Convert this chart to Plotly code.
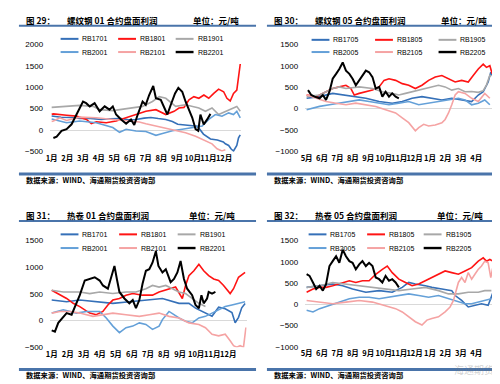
import plotly.graph_objects as go

W, H = 500, 384

NAMES_01 = ["RB1701", "RB1801", "RB1901", "RB2001", "RB2101", "RB2201"]
NAMES_05 = ["RB1705", "RB1805", "RB1905", "RB2005", "RB2105", "RB2205"]
COLORS = ["#3570B8", "#FF1414", "#A8A8A8", "#64A0D8", "#F5A3A3", "#000000"]
WIDTHS = [1.6, 1.6, 1.6, 1.6, 1.6, 2.0]

MONTH_TICKS_01 = [1, 2, 3, 4, 5, 6, 7, 8, 9, 10, 11, 12]
MONTH_LABELS_01 = ["1月", "2月", "3月", "4月", "5月", "6月", "7月", "8月", "9月", "10月", "11月", "12月"]
MONTH_TICKS_05 = [0, 1, 2, 3, 4, 5, 6, 7, 8, 9, 10, 11]
MONTH_LABELS_05 = ["5月", "6月", "7月", "8月", "9月", "10月", "11月", "12月", "1月", "2月", "3月", "4月"]

# ---------------- 图29 螺纹钢01 ----------------
P29_RB1701_X = [1.0, 1.19, 1.6, 2.27, 2.8, 3.3, 3.8, 4.16, 4.7, 5.43, 5.9, 6.38, 6.9, 7.33, 7.8, 8.28, 8.7, 9.04, 9.67, 10.3, 10.68, 11.13, 11.57, 11.95, 12.08, 12.29, 12.45, 12.6, 12.81, 12.92, 13.03]
P29_RB1701_Y = [330, 318, 300, 295, 270, 280, 260, 250, 265, 273, 240, 250, 280, 295, 270, 250, 200, 136, 114, 91, -91, -205, -227, -273, -318, -356, -440, -485, -356, -180, -110]
P29_RB1801_X = [1.0, 1.11, 1.95, 2.58, 3.22, 3.53, 3.85, 4.48, 5.11, 5.75, 6.38, 7.01, 7.65, 8.28, 8.81, 9.12, 9.44, 9.76, 10.07, 10.39, 10.71, 11.02, 11.34, 11.65, 11.97, 12.18, 12.39, 12.6, 12.81, 12.92, 13.03]
P29_RB1801_Y = [370, 379, 348, 326, 250, 151, 197, 174, 212, 288, 379, 439, 477, 364, 439, 515, 530, 705, 780, 742, 818, 742, 856, 955, 894, 742, 680, 856, 932, 1197, 1540]
P29_RB1901_X = [1.0, 1.95, 2.79, 3.64, 4.06, 4.9, 5.96, 6.8, 7.43, 7.86, 8.28, 8.91, 9.54, 9.97, 10.39, 10.81, 11.23, 11.65, 12.08, 12.5, 12.81, 13.03]
P29_RB1901_Y = [530, 553, 576, 553, 477, 455, 500, 553, 667, 780, 742, 553, 591, 553, 515, 439, 515, 364, 439, 515, 553, 439]
P29_RB2001_X = [1.0, 1.11, 1.95, 2.79, 3.85, 4.9, 5.33, 5.75, 6.38, 7.01, 7.65, 8.07, 8.7, 9.33, 9.97, 10.6, 11.02, 11.44, 11.86, 12.29, 12.6, 12.81, 13.03]
P29_RB2001_Y = [260, 250, 174, 212, 174, 61, -50, 20, -20, -30, -120, -80, -15, 23, 61, 98, 250, 364, 326, 402, 364, 439, 288]
P29_RB2101_X = [1.0, 1.11, 1.53, 1.95, 2.79, 3.85, 4.9, 5.96, 6.59, 7.01, 7.65, 8.28, 8.91, 9.54, 10.18, 10.81, 11.23, 11.55, 11.86, 12.08]
P29_RB2101_Y = [200, 212, 288, 227, 303, 288, 250, 212, 190, 150, 100, 50, -10, -60, -140, -242, -318, -432, -485, -455]
P29_RB2201_X = [1.11, 1.32, 1.63, 1.95, 2.27, 2.58, 2.79, 3.0, 3.2, 3.43, 3.74, 4.06, 4.38, 4.69, 4.9, 5.11, 5.43, 5.75, 6.06, 6.27, 6.49, 6.8, 7.0, 7.22, 7.48, 7.65, 7.96, 8.17, 8.38, 8.6, 8.87, 9.08, 9.33, 9.54, 9.76, 9.97, 10.18, 10.35, 10.49, 10.7, 10.92, 11.13]
P29_RB2201_Y = [-182, -152, -15, 23, 136, 364, 515, 667, 629, 553, 629, 439, 553, 477, 553, 364, 250, 150, 250, 120, 364, 667, 591, 818, 1030, 742, 705, 553, 364, 591, 856, 985, 894, 667, 477, 288, 23, -15, 364, 136, 250, 379]

# ---------------- 图30 螺纹钢05 ----------------
P30_RB1705_X = [0.0, 0.84, 1.69, 2.34, 2.98, 3.84, 4.7, 5.55, 6.2, 6.84, 7.48, 8.12, 8.77, 9.41, 10.05, 10.7, 11.13, 11.45, 11.77, 11.94, 12.03]
P30_RB1705_Y = [242, 280, 356, 318, 280, 242, 166, 128, 166, 242, 280, 242, 204, 242, 204, 166, 318, 394, 621, 848, 772]
P30_RB1805_X = [0.0, 0.62, 1.26, 1.69, 2.12, 2.55, 2.87, 3.09, 3.41, 3.84, 4.27, 4.7, 5.02, 5.34, 5.77, 6.2, 6.62, 7.05, 7.48, 7.91, 8.34, 8.77, 9.2, 9.63, 10.05, 10.48, 10.8, 11.13, 11.45, 11.66, 11.88, 12.03]
P30_RB1805_Y = [318, 280, 394, 469, 507, 545, 469, 318, 356, 394, 432, 507, 659, 697, 659, 583, 545, 469, 545, 659, 735, 772, 697, 621, 659, 621, 772, 924, 1038, 962, 1000, 810]
P30_RB1905_X = [0.0, 0.84, 1.69, 2.12, 2.55, 3.41, 4.27, 4.91, 5.55, 5.98, 6.41, 6.84, 7.27, 7.7, 8.12, 8.55, 8.98, 9.41, 9.84, 10.27, 10.7, 11.13, 11.45, 11.66, 11.88, 11.98]
P30_RB1905_Y = [280, 318, 469, 507, 469, 507, 469, 394, 356, 318, 356, 394, 432, 469, 507, 545, 507, 432, 469, 394, 400, 380, 420, 550, 780, 760]
P30_RB2005_X = [0.0, 0.41, 0.84, 1.48, 2.12, 2.77, 3.41, 4.05, 4.7, 5.34, 5.98, 6.62, 7.27, 7.91, 8.55, 9.2, 9.84, 10.27, 10.7, 11.13, 11.55, 11.88]
P30_RB2005_Y = [-23, 15, 53, 91, 128, 166, 204, 166, 128, 91, 128, 166, 91, 128, 166, 204, 242, 204, 91, 128, 204, 91]
P30_RB2105_X = [0.0, 0.62, 1.26, 1.91, 2.55, 3.19, 3.84, 4.48, 5.12, 5.77, 6.2, 6.62, 7.05, 7.27, 7.59, 7.91, 8.34, 8.77, 8.98, 9.2, 9.41, 9.63, 9.84, 10.27, 10.7, 11.13, 11.55, 11.88]
P30_RB2105_Y = [318, 242, 166, 128, 91, 128, 91, 53, -23, -99, -212, -326, -515, -440, -364, -402, -380, -330, -250, -100, 91, 318, 394, 356, 242, 166, 356, 242]
P30_RB2205_X = [0.09, 0.3, 0.51, 0.84, 1.05, 1.26, 1.48, 1.69, 1.91, 2.12, 2.34, 2.55, 2.77, 2.98, 3.19, 3.41, 3.62, 3.84, 4.05, 4.27, 4.48, 4.7, 4.91, 5.12, 5.34, 5.55, 5.77, 5.98]
P30_RB2205_Y = [432, 318, 280, 242, 318, 204, 394, 697, 810, 924, 1076, 886, 810, 697, 545, 659, 772, 886, 848, 735, 469, 507, 280, 394, 280, 356, 280, 242]

# ---------------- 图31 热卷01 ----------------
P31_RB1701_X = [1.0, 1.93, 2.75, 3.78, 4.81, 5.84, 6.87, 7.9, 8.93, 9.55, 9.96, 10.37, 10.99, 11.4, 11.81, 12.23, 12.43, 12.64, 12.84, 13.05]
P31_RB1701_Y = [384, 353, 384, 353, 323, 353, 384, 414, 323, 323, 232, 171, 80, 250, 220, 150, -40, 60, 240, 320]
P31_RB1801_X = [1.0, 1.51, 1.93, 2.34, 2.75, 3.37, 3.78, 4.19, 4.5, 4.81, 5.22, 5.63, 6.05, 6.66, 7.28, 7.69, 8.31, 8.72, 9.14, 9.34, 9.55, 9.86, 10.17, 10.47, 10.78, 11.09, 11.4, 11.71, 12.12, 12.33, 12.64, 13.05]
P31_RB1801_Y = [567, 476, 414, 323, 262, 140, 110, 171, 293, 384, 414, 476, 506, 476, 476, 536, 597, 628, 414, 658, 841, 933, 1055, 933, 841, 780, 750, 658, 506, 597, 811, 902]
P31_RB1901_X = [1.0, 1.72, 2.75, 3.37, 3.99, 4.81, 5.63, 6.25, 6.87, 7.28, 7.69, 8.11, 8.52, 8.93, 9.34, 9.75, 10.17, 10.58]
P31_RB1901_Y = [567, 536, 536, 506, 536, 506, 536, 536, 597, 658, 628, 658, 597, 536, 506, 414, 323, 262]
P31_RB2001_X = [1.0, 1.72, 2.54, 3.16, 3.99, 4.4, 4.81, 5.22, 5.63, 6.05, 6.46, 6.87, 7.28, 7.69, 7.9, 8.31, 8.62, 8.93, 9.34, 9.75, 10.17, 10.58, 10.99, 11.4, 11.81, 12.23, 12.64, 13.05]
P31_RB2001_Y = [140, 201, 140, 171, 171, 49, -104, -226, -134, -104, -43, -73, -165, -104, 18, 171, 110, 49, -13, -43, 49, 79, 140, 201, 262, 293, 323, 353]
P31_RB2101_X = [1.0, 1.51, 2.13, 2.75, 3.57, 4.19, 4.81, 5.63, 6.46, 7.08, 7.69, 8.31, 8.93, 9.55, 10.17, 10.58, 10.99, 11.4, 11.81, 12.12, 12.33, 12.53, 12.74, 12.95, 13.1]
P31_RB2101_Y = [140, 171, 171, 140, 79, 110, 140, 110, 79, 110, 140, 79, 49, -43, -73, -134, -256, -287, -256, -378, -470, -500, -470, -500, -130]
P31_RB2201_X = [1.0, 1.2, 1.41, 1.72, 1.93, 2.24, 2.44, 2.75, 3.06, 3.37, 3.68, 3.99, 4.19, 4.5, 4.71, 4.91, 5.06, 5.22, 5.53, 5.84, 6.05, 6.25, 6.46, 6.66, 6.87, 7.08, 7.28, 7.49, 7.65, 7.9, 8.11, 8.41, 8.62, 8.83, 9.03, 9.24, 9.44, 9.75, 9.96, 10.17, 10.33, 10.47, 10.68, 10.78, 10.99, 11.2]
P31_RB2201_Y = [-183, -207, -43, 79, 140, 110, 262, 476, 750, 780, 811, 750, 658, 597, 811, 1024, 780, 536, 414, 323, 384, 232, 384, 689, 933, 963, 1085, 1299, 1024, 902, 963, 719, 780, 902, 1116, 780, 597, 476, 293, 232, 476, 323, 414, 536, 506, 536]

# ---------------- 图32 热卷05 ----------------
P32_RB1705_X = [0.0, 0.84, 1.69, 2.34, 2.98, 3.84, 4.7, 5.55, 6.2, 6.62, 7.05, 7.7, 8.12, 8.77, 9.41, 9.63, 10.05, 10.48, 10.91, 11.34, 11.77, 11.98, 12.09]
P32_RB1705_Y = [400, 439, 477, 439, 362, 285, 323, 285, 400, 515, 477, 439, 400, 362, 323, 208, 92, -61, -23, 15, -23, 208, 285]
P32_RB1805_X = [0.0, 0.41, 0.84, 1.26, 1.69, 2.34, 2.77, 3.19, 3.62, 4.05, 4.48, 4.91, 5.23, 5.55, 5.98, 6.41, 6.84, 7.27, 7.7, 8.12, 8.55, 8.98, 9.41, 9.84, 10.27, 10.7, 11.13, 11.45, 11.66, 11.88, 12.09]
P32_RB1805_Y = [285, 362, 400, 400, 439, 515, 554, 515, 554, 554, 708, 823, 900, 746, 592, 515, 439, 477, 554, 631, 708, 785, 746, 708, 785, 862, 1015, 1092, 1015, 1054, 1015]
P32_RB1905_X = [0.0, 0.84, 1.69, 2.55, 3.41, 4.27, 5.12, 5.98, 6.84, 7.7, 8.55, 9.2, 9.84, 10.48, 11.13, 11.55, 11.98]
P32_RB1905_Y = [400, 439, 515, 477, 439, 400, 362, 323, 362, 400, 323, 246, 246, 285, 285, 323, 323]
P32_RB2005_X = [0.0, 0.41, 0.84, 1.48, 2.12, 2.77, 3.41, 4.05, 4.7, 5.34, 5.98, 6.62, 7.27, 7.91, 8.55, 9.2, 9.84, 10.27, 10.7, 11.13, 11.55, 11.98]
P32_RB2005_Y = [-138, -177, -100, -23, 54, 131, 169, 169, 131, 169, 208, 246, 208, 169, 208, 131, 54, 15, 15, 54, 92, 131]
P32_RB2105_X = [0.0, 0.84, 1.69, 2.55, 3.41, 4.27, 5.12, 5.77, 6.2, 6.62, 7.05, 7.48, 7.8, 8.12, 8.55, 8.98, 9.3, 9.52, 9.73, 9.84, 10.05, 10.27, 10.48, 10.7, 10.91, 11.13, 11.34, 11.55, 11.77, 11.94, 12.09]
P32_RB2105_Y = [92, 54, 15, 54, 92, 54, -23, -100, -177, -292, -408, -484, -369, -331, -292, -177, -61, 92, 362, 515, 631, 515, 746, 592, 708, 823, 900, 1015, 977, 631, 900]
P32_RB2205_X = [0.0, 0.19, 0.41, 0.62, 0.84, 1.05, 1.26, 1.48, 1.69, 1.91, 2.12, 2.34, 2.55, 2.77, 2.98, 3.19, 3.41, 3.62, 3.84, 4.05, 4.27, 4.48, 4.7, 4.91, 5.12, 5.34, 5.55, 5.77, 5.98]
P32_RB2205_Y = [708, 669, 515, 362, 439, 323, 477, 900, 1015, 1131, 977, 1285, 1131, 1015, 977, 823, 939, 1015, 900, 977, 900, 631, 592, 515, 669, 554, 592, 515, 400]

P29 = [(P29_RB1701_X, P29_RB1701_Y), (P29_RB1801_X, P29_RB1801_Y), (P29_RB1901_X, P29_RB1901_Y),
       (P29_RB2001_X, P29_RB2001_Y), (P29_RB2101_X, P29_RB2101_Y), (P29_RB2201_X, P29_RB2201_Y)]
P30 = [(P30_RB1705_X, P30_RB1705_Y), (P30_RB1805_X, P30_RB1805_Y), (P30_RB1905_X, P30_RB1905_Y),
       (P30_RB2005_X, P30_RB2005_Y), (P30_RB2105_X, P30_RB2105_Y), (P30_RB2205_X, P30_RB2205_Y)]
P31 = [(P31_RB1701_X, P31_RB1701_Y), (P31_RB1801_X, P31_RB1801_Y), (P31_RB1901_X, P31_RB1901_Y),
       (P31_RB2001_X, P31_RB2001_Y), (P31_RB2101_X, P31_RB2101_Y), (P31_RB2201_X, P31_RB2201_Y)]
P32 = [(P32_RB1705_X, P32_RB1705_Y), (P32_RB1805_X, P32_RB1805_Y), (P32_RB1905_X, P32_RB1905_Y),
       (P32_RB2005_X, P32_RB2005_Y), (P32_RB2105_X, P32_RB2105_Y), (P32_RB2205_X, P32_RB2205_Y)]

for grp in (P29, P30, P31, P32):
    for xs, ys in grp:
        assert len(xs) == len(ys), (len(xs), len(ys))

PANELS = [
    dict(fig="图 29：", title="螺纹钢 01 合约盘面利润", names=NAMES_01, data=P29,
         xr=[0.9, 13.1], yr=[-500, 2000], px=(38.4, 231.2), py=(33, 143),
         tv=MONTH_TICKS_01, tt=MONTH_LABELS_01, ox=0, oy=0,
         lx=[49, 107, 165], ly=[27.5, 41], unit_r=231),
    dict(fig="图 30：", title="螺纹钢 05 合约盘面利润", names=NAMES_05, data=P30,
         xr=[-0.1, 12.15], yr=[-1000, 1500], px=(295.45, 485.9), py=(33, 143),
         tv=MONTH_TICKS_05, tt=MONTH_LABELS_05, ox=250, oy=0,
         lx=[302, 366, 430], ly=[28.5, 41], unit_r=481),
    dict(fig="图 31：", title="热卷 01 合约盘面利润", names=NAMES_01, data=P31,
         xr=[0.9, 13.15], yr=[-500, 1500], px=(38.4, 236.6), py=(234, 343.3),
         tv=MONTH_TICKS_01, tt=MONTH_LABELS_01, ox=0, oy=200,
         lx=[49, 108, 167], ly=[227.7, 241.7], unit_r=227),
    dict(fig="图 32：", title="热卷 05 合约盘面利润", names=NAMES_05, data=P32,
         xr=[-0.1, 12.15], yr=[-1000, 1500], px=(295.45, 485.9), py=(234, 343),
         tv=MONTH_TICKS_05, tt=MONTH_LABELS_05, ox=250, oy=200,
         lx=[299, 358, 415], ly=[227.7, 241.7], unit_r=477),
]

LATIN = "Liberation Sans, Arial, Noto Sans CJK SC"
CJK = "Noto Sans CJK SC, Liberation Sans"
BLUE_RULE = "#4A74AA"


def fx(p):
    return p / W


def fy(p):
    return 1 - p / H


fig = go.Figure()
layout = dict(width=W, height=H, margin=dict(l=0, r=0, t=0, b=0),
              paper_bgcolor="white", plot_bgcolor="white", showlegend=False)
shapes = []
annotations = []

for k, P in enumerate(PANELS):
    ax = "" if k == 0 else str(k + 1)
    for i, name in enumerate(P["names"]):
        xs, ys = P["data"][i]
        fig.add_trace(go.Scatter(x=xs, y=ys, mode="lines", name=name,
                                 xaxis="x" + ax, yaxis="y" + ax,
                                 line=dict(color=COLORS[i], width=WIDTHS[i]),
                                 hoverinfo="skip"))
    layout["xaxis" + ax] = dict(
        domain=[fx(P["px"][0]), fx(P["px"][1])], range=P["xr"], anchor="y" + ax,
        tickmode="array", tickvals=P["tv"], ticktext=P["tt"], tickangle=0,
        showgrid=False, zeroline=False, showline=False, ticks="",
        tickfont=dict(family=CJK, size=7.5, color="#000", weight="bold"), ticklabelstandoff=1)
    layout["yaxis" + ax] = dict(
        domain=[fy(P["py"][1]), fy(P["py"][0])], range=P["yr"], anchor="x" + ax,
        tickmode="linear", tick0=0, dtick=500,
        showgrid=False, zeroline=True, zerolinecolor="#D9D9D9", zerolinewidth=1,
        showline=False, ticks="",
        tickfont=dict(family=LATIN, size=8, color="#000"), ticklabelstandoff=6)

    ox, oy = P["ox"], P["oy"]
    # header texts
    annotations.append(dict(x=fx(12 + ox), y=fy(8 + oy), xref="paper", yref="paper",
                            text="<b>" + P["fig"] + "</b>", showarrow=False, xanchor="left",
                            yanchor="middle", font=dict(family=CJK, size=8.5, color="#000")))
    annotations.append(dict(x=fx(53 + ox), y=fy(8 + oy), xref="paper", yref="paper",
                            text="<b>" + P["title"] + "</b>", showarrow=False, xanchor="left",
                            yanchor="middle", font=dict(family=CJK, size=8.5, color="#000")))
    annotations.append(dict(x=fx(P["unit_r"]), y=fy(8 + oy), xref="paper", yref="paper",
                            text="<b>单位：元/吨</b>", showarrow=False, xanchor="right",
                            yanchor="middle", font=dict(family=CJK, size=8.5, color="#000")))
    annotations.append(dict(x=fx(12 + ox), y=fy(172 + oy), xref="paper", yref="paper",
                            text="<b>数据来源：WIND、海通期货投资咨询部</b>", showarrow=False,
                            xanchor="left", yanchor="middle",
                            font=dict(family=CJK, size=7.3, color="#000")))
    # rules
    shapes.append(dict(type="line", xref="paper", yref="paper", x0=fx(7 + ox), x1=fx(246 + ox),
                       y0=fy(14 + oy), y1=fy(14 + oy), line=dict(color=BLUE_RULE, width=2)))
    shapes.append(dict(type="line", xref="paper", yref="paper", x0=fx(7 + ox), x1=fx(246 + ox),
                       y0=fy(166 + oy), y1=fy(166 + oy), line=dict(color=BLUE_RULE, width=3)))
    # legend
    for i, name in enumerate(P["names"]):
        row, col = divmod(i, 3)
        lx0 = P["lx"][col]
        ly0 = P["ly"][row]
        shapes.append(dict(type="line", xref="paper", yref="paper", x0=fx(lx0), x1=fx(lx0 + 18),
                           y0=fy(ly0), y1=fy(ly0),
                           line=dict(color=COLORS[i], width=WIDTHS[i] + 0.4)))
        annotations.append(dict(x=fx(lx0 + 20), y=fy(ly0), xref="paper", yref="paper",
                                text=name, showarrow=False, xanchor="left", yanchor="middle",
                                font=dict(family=LATIN, size=7, color="#000")))

# watermark
annotations.append(dict(x=fx(488), y=fy(366), xref="paper", yref="paper", text="海通期货",
                        showarrow=False, xanchor="right", yanchor="middle",
                        font=dict(family=CJK, size=10, color="rgba(120,120,120,0.35)")))

layout["shapes"] = shapes
layout["annotations"] = annotations
fig.update_layout(**layout)
fig.write_html("out.html")
